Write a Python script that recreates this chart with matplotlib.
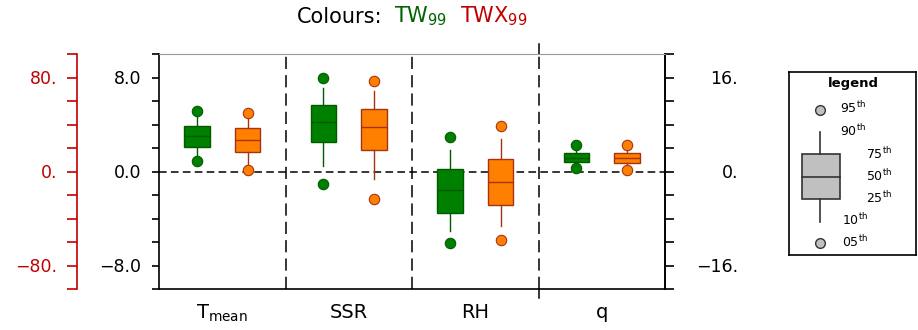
import numpy as np
import matplotlib
matplotlib.use("Agg")
import matplotlib.pyplot as plt
from matplotlib.patches import Rectangle

# categories and percentiles (main axis units)
categories = ["T$_{\\rm mean}$", "SSR", "RH", "q"]

tw_p05 = [0.90, -1.05, -6.10, 0.28]
tw_p10 = [1.40, 0.50, -5.10, 0.60]
tw_p25 = [2.07, 2.53, -3.49, 0.82]
tw_p50 = [3.00, 4.23, -1.56, 1.19]
tw_p75 = [3.89, 5.70, 0.23, 1.59]
tw_p90 = [4.60, 7.09, 1.87, 1.93]
tw_p95 = [5.13, 7.97, 2.95, 2.27]

twx_p05 = [0.17, -2.33, -5.79, 0.17]
twx_p10 = [0.65, -0.62, -4.68, 0.49]
twx_p25 = [1.62, 1.82, -2.89, 0.71]
twx_p50 = [2.70, 3.77, -0.88, 1.13]
twx_p75 = [3.69, 5.36, 1.08, 1.59]
twx_p90 = [4.57, 6.81, 2.75, 1.93]
twx_p95 = [5.00, 7.69, 3.89, 2.27]

mid_ticks = [-8, 0, 8]
mid_labels = ["\u22128.0", "0.0", "8.0"]
red_ticks = [-80, 0, 80]
red_labels = ["\u221280.", "0.", "80."]
right_ticks = [-16, 0, 16]
right_labels = ["\u221216.", "0.", "16."]

GREEN = "#008000"
GREEN_EDGE = "#005a00"
ORANGE = "#ff8000"
ORANGE_EDGE = "#a83214"
RED = "#c00000"

W, H = 918, 330
fig = plt.figure(figsize=(W / 100, H / 100), dpi=100)

ax = fig.add_axes([159 / W, (H - 289) / H, 506 / W, 235 / H])
ax.set_xlim(0, 4)
ax.set_ylim(-10, 10)


def make_stats(p05, p10, p25, p50, p75, p90, p95):
    out = []
    for i in range(len(p50)):
        out.append(dict(med=p50[i], q1=p25[i], q3=p75[i],
                        whislo=p10[i], whishi=p90[i],
                        fliers=[p05[i], p95[i]]))
    return out


pos = np.arange(len(categories)) + 0.5
series = [
    (make_stats(tw_p05, tw_p10, tw_p25, tw_p50, tw_p75, tw_p90, tw_p95), -0.2, GREEN, GREEN_EDGE),
    (make_stats(twx_p05, twx_p10, twx_p25, twx_p50, twx_p75, twx_p90, twx_p95), 0.2, ORANGE, ORANGE_EDGE),
]
for stats, off, fc, ec in series:
    ax.bxp(stats, positions=pos + off, widths=0.2, patch_artist=True,
           showcaps=False, manage_ticks=False,
           boxprops=dict(facecolor=fc, edgecolor=ec, linewidth=1.0),
           medianprops=dict(color=ec, linewidth=1.0),
           whiskerprops=dict(color=ec, linewidth=1.0),
           flierprops=dict(marker="o", markerfacecolor=fc, markeredgecolor=ec,
                           markersize=7.5, markeredgewidth=0.8))

# separators and zero line
ax.axhline(0, color="black", lw=1.1, ls=(0, (5, 2.8)), zorder=0)
for xs in [1, 2, 3]:
    ax.axvline(xs, color="black", lw=1.1, ls=(0, (8, 4)), zorder=0)
ax.plot([3, 3], [10, 10.85], color="black", lw=1.1, clip_on=False)
ax.plot([3, 3], [-10, -10.8], color="black", lw=1.1, clip_on=False)

# x labels
ax.set_xticks(pos, labels=categories)
ax.tick_params(axis="x", length=0, pad=10, labelsize=14)

# middle (black) left axis
ax.set_yticks(mid_ticks, labels=mid_labels)
ax.set_yticks(np.arange(-10, 11, 2), minor=True)
ax.tick_params(axis="y", which="both", direction="out", length=5, width=1.2,
               pad=8, labelsize=12.5, right=False)
ax.spines["top"].set_color("#999999")
for s in ["left", "right", "bottom"]:
    ax.spines[s].set_linewidth(1.2)

# red outer left axis
red = ax.secondary_yaxis(-82 / 506, functions=(lambda y: y * 10, lambda y: y / 10))
red.set_yticks(red_ticks, labels=red_labels)
red.set_yticks(np.arange(-100, 101, 20), minor=True)
red.tick_params(axis="y", which="both", direction="out", length=7, width=1.2,
                pad=7, labelsize=12.5, color=RED, labelcolor=RED)
red.spines["left"].set_color(RED)
red.spines["left"].set_linewidth(1.2)

# right axis
rax = ax.secondary_yaxis("right", functions=(lambda y: y * 2, lambda y: y / 2))
rax.set_yticks(right_ticks, labels=right_labels)
rax.set_yticks(np.arange(-20, 21, 4), minor=True)
rax.tick_params(axis="y", which="both", direction="out", length=6.5, width=1.2,
                pad=46, labelsize=12.5)
rax.spines["right"].set_linewidth(1.2)
for lbl in rax.get_yticklabels():
    lbl.set_horizontalalignment("right")

# title with coloured parts
title_parts = ["Colours:", "TW$_{99}$", "TWX$_{99}$"]
title_colors = ["black", "#006400", "#c00000"]
renderer = fig.canvas.get_renderer()
texts = [fig.text(0, 0.931, t, color=c, fontsize=15, va="baseline")
         for t, c in zip(title_parts, title_colors)]
gap = 12
widths = [t.get_window_extent(renderer).width for t in texts]
total = sum(widths) + gap * (len(texts) - 1)
x0 = 412 - total / 2
for t, w in zip(texts, widths):
    t.set_x(x0 / W)
    x0 += w + gap

# legend box
lax = fig.add_axes([789 / W, (H - 255) / H, 127 / W, 183.3 / H])
lax.set_xlim(0, 127)
lax.set_ylim(183.3, 0)
lax.set_xticks([])
lax.set_yticks([])
for s in lax.spines.values():
    s.set_linewidth(1.2)
lax.text(64, 12, "legend", ha="center", va="center", fontsize=9.5, fontweight="bold")
lax.plot([31, 31], [60, 82.3], color="#333333", lw=1.2)
lax.plot([31, 31], [127.3, 150], color="#333333", lw=1.2)
lax.add_patch(Rectangle((13, 82.3), 38, 45, facecolor="#c0c0c0", edgecolor="#333333", lw=1.2))
lax.plot([13, 51], [105, 105], color="#333333", lw=1.2)
lax.plot([31, 31], [38.3, 171.3], ls="none", marker="o", markersize=7,
         markerfacecolor="#c0c0c0", markeredgecolor="#333333")
leg_labels = [("95", 51, 36), ("90", 51, 59), ("75", 77, 82), ("50", 77, 104),
              ("25", 77, 126), ("10", 53, 148), ("05", 53, 170)]
for lab, lx, ly in leg_labels:
    lax.text(lx, ly, lab + "$^{\\rm th}$", fontsize=9, va="center", ha="left")

fig.savefig("out.png", dpi=100)
